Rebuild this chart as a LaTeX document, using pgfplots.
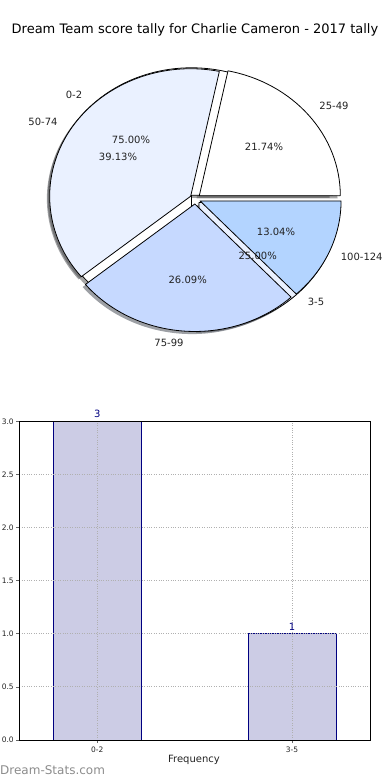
\documentclass[border=0pt]{standalone}
\usepackage{pgfplots}
\pgfplotsset{compat=1.18}
\usepackage{fontspec}
\setmainfont{DejaVu Sans}
\definecolor{c1}{HTML}{EAF1FF}
\definecolor{c2}{HTML}{C6D9FF}
\definecolor{c3}{HTML}{B3D4FF}
\definecolor{barfill}{HTML}{CCCCE5}
\definecolor{navy}{HTML}{000080}
\definecolor{gridc}{HTML}{B0B0B0}
\definecolor{txt}{HTML}{222222}
% pie geometry (pt)
\def\cx{195.2}\def\cy{581.1}\def\rx{141}\def\ry{127.5}\def\ex{5.3}\def\ey{5.1}
% #1 start pct, #2 end pct
\newcommand\slicepath[2]{(axis cs:\cx,\cy) -- ++({\rx*cos(3.6*(#1))*1pt},{\ry*sin(3.6*(#1))*1pt}) arc[start angle={3.6*(#1)}, end angle={3.6*(#2)}, x radius=\rx pt, y radius=\ry pt] -- cycle}
\newcommand\slice[3]{\filldraw[fill=#3, draw=black, line width=0.8pt, line join=round, shift={({\ex*cos(1.8*((#1)+(#2)))*1pt},{\ey*sin(1.8*((#1)+(#2)))*1pt})}] \slicepath{#1}{#2};}
\newcommand\sliceshadow[3]{\fill[fill=#3!30!black, fill opacity=0.5, shift={({\ex*cos(1.8*((#1)+(#2)))*1pt-2.8pt},{\ey*sin(1.8*((#1)+(#2)))*1pt-2.6pt})}] \slicepath{#1}{#2};}
\begin{document}
\begin{tikzpicture}
\useasboundingbox (0pt,0pt) rectangle (390pt,780pt);
% ---------------- pie charts ----------------
\begin{axis}[at={(0pt,0pt)}, anchor=south west, scale only axis, width=390pt, height=780pt,
  xmin=0, xmax=390, ymin=0, ymax=780, hide axis, clip=false]
% shadows: pie of counts 3,1 (75.00%, 25.00%) and pie of 5,9,6,3 of 23
\sliceshadow{0}{75}{white}
\sliceshadow{75}{100}{c1}
\sliceshadow{0}{21.74}{white}
\sliceshadow{21.74}{21.74+39.13}{c1}
\sliceshadow{21.74+39.13}{21.74+39.13+26.09}{c2}
\sliceshadow{21.74+39.13+26.09}{100}{c3}
% first pie: 0-2, 3-5
\slice{0}{75}{white}
\slice{75}{100}{c1}
% second pie: 25-49, 50-74, 75-99, 100-124
\slice{0}{21.74}{white}
\slice{21.74}{21.74+39.13}{c1}
\slice{21.74+39.13}{21.74+39.13+26.09}{c2}
\slice{21.74+39.13+26.09}{100}{c3}
\end{axis}
% ---------------- bar chart ----------------
\begin{axis}[at={(19.3pt,40pt)}, anchor=south west, scale only axis, width=350.7pt, height=318.7pt,
  xmin=-0.4, xmax=1.4, ymin=0, ymax=3,
  xtick={0,1}, xticklabels={0-2,3-5},
  ytick={0,0.5,1,1.5,2,2.5,3},
  yticklabel style={/pgf/number format/fixed, /pgf/number format/fixed zerofill, /pgf/number format/precision=1, xshift=1pt},
  /pgf/number format/assume math mode=true,
  tick label style={font=\fontsize{7.5}{8.5}\selectfont, color=txt},
  tick align=outside, major tick length=3pt, xtick pos=bottom, ytick pos=left,
  tick style={color=black!60, line width=0.6pt},
  grid=major, grid style={dotted, gridc, line width=0.9pt},
  axis line style={line width=0.8pt},
  axis on top]
\addplot[ybar, bar width=0.45, fill=barfill, draw=navy, line width=0.8pt,
  nodes near coords, nodes near coords style={font=\fontsize{10}{12}\selectfont, color=navy, inner sep=1pt, yshift=2pt}]
  coordinates {(0,3) (1,1)};
\end{axis}
% ---------------- texts ----------------
\node[font=\fontsize{13}{15}\selectfont, color=black] at (195pt,750pt) {Dream Team score tally for Charlie Cameron - 2017 tally};
\begin{scope}[every node/.style={font=\fontsize{10}{12}\selectfont, color=txt}]
\node at (74pt,685pt) {0-2};
\node at (43pt,658.3pt) {50-74};
\node at (334pt,674pt) {25-49};
\node at (131pt,640pt) {75.00\%};
\node at (118pt,623.3pt) {39.13\%};
\node at (264pt,633.3pt) {21.74\%};
\node at (276pt,548.3pt) {13.04\%};
\node at (257.7pt,524pt) {25.00\%};
\node at (361.7pt,523.3pt) {100-124};
\node at (316pt,478.3pt) {3-5};
\node at (187.7pt,500pt) {26.09\%};
\node at (169pt,437pt) {75-99};
\node at (194pt,20pt) {Frequency};
\end{scope}
\node[anchor=west, inner sep=0pt, font=\fontsize{12}{14}\selectfont, color=black!45] at (0pt,10pt) {Dream-Stats.com};
\end{tikzpicture}
\end{document}
